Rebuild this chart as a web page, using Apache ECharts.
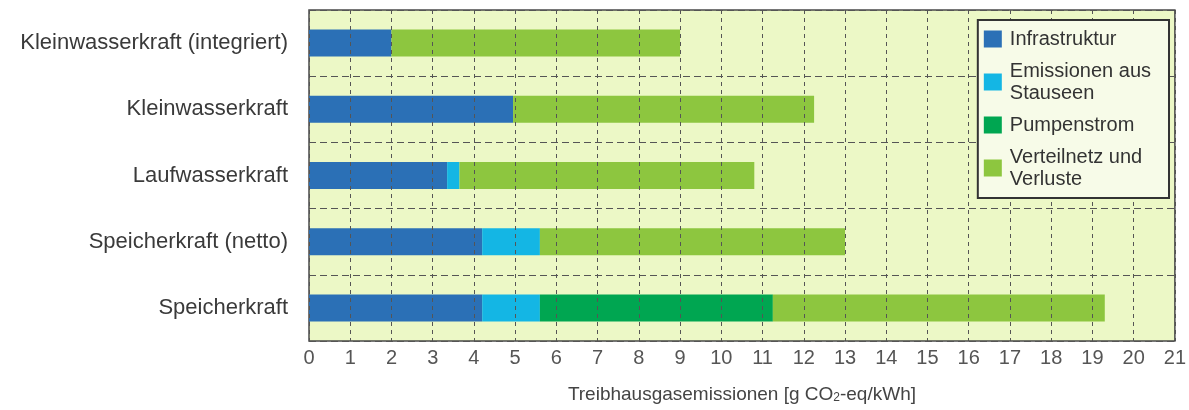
<!DOCTYPE html>
<html>
<head>
<meta charset="utf-8">
<script src="https://cdn.jsdelivr.net/npm/echarts@6/dist/echarts.min.js"></script>
<style>
html,body{margin:0;padding:0;background:#fff;}
#chart{width:1189px;height:410px;}
</style>
</head>
<body>
<div id="chart"></div>
<script>
const categories = ['Kleinwasserkraft (integriert)', 'Kleinwasserkraft', 'Laufwasserkraft', 'Speicherkraft (netto)', 'Speicherkraft'];
const seriesNames = ['Infrastruktur', 'Emissionen aus\nStauseen', 'Pumpenstrom', 'Verteilnetz und\nVerluste'];
const infrastruktur = [2.0, 4.95, 3.35, 4.2, 4.2];
const emissionenStauseen = [0, 0, 0.3, 1.4, 1.4];
const pumpenstrom = [0, 0, 0, 0, 5.65];
const verteilnetz = [7.0, 7.3, 7.15, 7.4, 8.05];
const xTicks = [0, 21, 1]; // min, max, interval

const colors = ['#2b70b6', '#14b6e4', '#00a651', '#8dc63f'];
const values = [infrastruktur, emissionenStauseen, pumpenstrom, verteilnetz];
const FONT = '"Liberation Sans", Arial, sans-serif';

const chart = echarts.init(document.getElementById('chart'), null, {renderer: 'canvas'});
chart.setOption({
  animation: false,
  textStyle: {fontFamily: FONT},
  grid: {
    left: 309, right: 13, top: 10, bottom: 69,
    show: true, backgroundColor: '#ecf8c6', borderColor: '#4a4a4a', borderWidth: 1.5
  },
  legend: {
    orient: 'vertical', right: 20, top: 20, z: 20,
    backgroundColor: '#f7fbe8', borderColor: '#333', borderWidth: 2,
    padding: [8, 18, 8, 6],
    itemWidth: 18, itemHeight: 17, itemGap: 10,
    icon: 'rect',
    textStyle: {fontFamily: FONT, fontSize: 20, lineHeight: 22, color: '#333', padding: [0, 0, 0, 3]},
    data: seriesNames
  },
  xAxis: {
    type: 'value', min: xTicks[0], max: xTicks[1], interval: xTicks[2], z: 10,
    axisLine: {show: false}, axisTick: {show: false},
    axisLabel: {fontFamily: FONT, fontSize: 20, color: '#555', margin: 7},
    splitLine: {show: true, lineStyle: {color: '#555', type: [4, 4], width: 1}},
    name: '{a|Treibhausgasemissionen [g CO}{s|2}{a|-eq/kWh]}',
    nameLocation: 'middle', nameGap: 41,
    nameTextStyle: {
      rich: {
        a: {fontFamily: FONT, fontSize: 19, color: '#444', lineHeight: 22, verticalAlign: 'bottom'},
        s: {fontFamily: FONT, fontSize: 12, color: '#444', lineHeight: 12, verticalAlign: 'bottom'}
      }
    }
  },
  yAxis: {
    type: 'category', inverse: true, data: categories,
    axisLine: {show: false}, axisTick: {show: false},
    axisLabel: {fontFamily: FONT, fontSize: 22, color: '#3a3a3a', margin: 21, interval: 0},
    splitLine: {show: true, interval: 0, lineStyle: {color: '#555', type: [7, 4], width: 1}}
  },
  series: seriesNames.map((n, i) => ({
    name: n, type: 'bar', stack: 'total', barWidth: 27,
    itemStyle: {color: colors[i]},
    data: values[i]
  }))
});
</script>
</body>
</html>
